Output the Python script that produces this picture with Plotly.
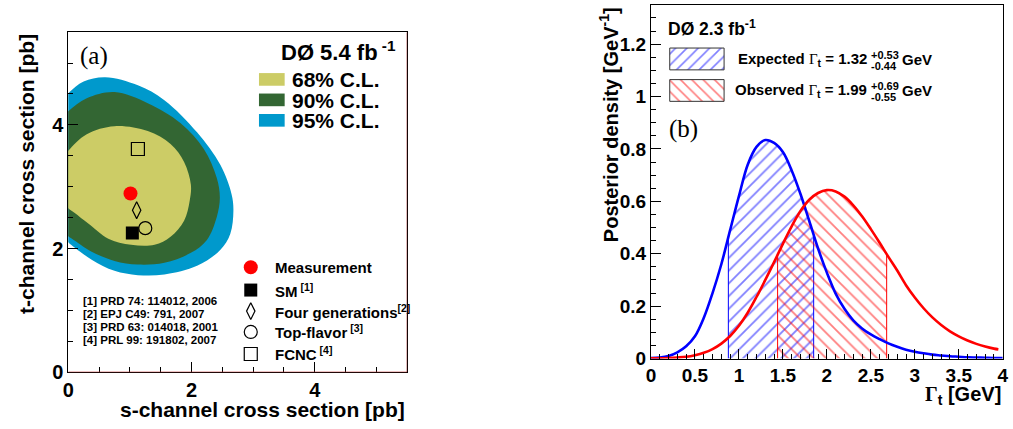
import numpy as np
import plotly.graph_objects as go

W, H = 1013, 429
SANS = "Liberation Sans, Arial, sans-serif"
SERIF = "Liberation Serif, Times New Roman, serif"

# ---------------- data: panel (a) ----------------
cl_labels = ["68% C.L.", "90% C.L.", "95% C.L."]
cl_colors = ["#cccc66", "#336633", "#0099cc"]

cl95_s = [0.0, 0.25, 0.6, 1.13, 1.56, 2.09, 2.47, 2.65, 2.68, 2.63, 2.47, 2.09, 1.56, 1.13, 0.75, 0.38, 0.06, 0.0, -0.2, -0.3, -0.2, 0.0]
cl95_t = [4.51, 4.70, 4.77, 4.64, 4.40, 3.88, 3.35, 2.88, 2.61, 2.24, 1.98, 1.72, 1.58, 1.57, 1.64, 1.82, 2.05, 2.10, 2.40, 3.30, 4.30, 4.51]
cl90_s = [0.0, 0.3, 0.75, 1.29, 1.82, 2.20, 2.41, 2.46, 2.41, 2.25, 1.99, 1.56, 1.13, 0.75, 0.38, 0.06, 0.0, -0.2, -0.3, -0.2, 0.0]
cl90_t = [4.22, 4.43, 4.53, 4.35, 4.03, 3.61, 3.14, 2.82, 2.51, 2.14, 1.93, 1.77, 1.74, 1.80, 1.95, 2.16, 2.20, 2.50, 3.20, 4.00, 4.22]
cl68_s = [0.0, 0.3, 0.75, 1.29, 1.66, 1.88, 1.99, 1.97, 1.88, 1.66, 1.40, 1.02, 0.65, 0.33, 0.10, 0.0, -0.1, -0.15, -0.1, 0.0]
cl68_t = [3.58, 3.85, 3.98, 3.90, 3.69, 3.40, 3.03, 2.77, 2.45, 2.19, 2.06, 2.06, 2.16, 2.40, 2.58, 2.65, 2.80, 3.10, 3.42, 3.58]

point_names = ["Measurement", "SM", "Four generations", "Top-flavor", "FCNC"]
point_refs = ["", " [1]", "[2]", " [3]", " [4]"]
point_s = [1.01, 1.04, 1.11, 1.25, 1.13]
point_t = [2.89, 2.25, 2.62, 2.33, 3.61]
point_symbols = ["circle", "square", "diamond-tall-open", "circle-open", "square-open"]
point_colors = ["#ff0000", "#000000", "#000000", "#000000", "#000000"]
point_sizes = [14, 13, 12, 13, 13]

ref_lines = ["[1] PRD 74: 114012, 2006", "[2] EPJ C49: 791, 2007",
             "[3] PRD 63: 014018, 2001", "[4] PRL 99: 191802, 2007"]

# ---------------- data: panel (b) ----------------
gamma_exp = [0.0, 0.1, 0.2, 0.3, 0.4, 0.5, 0.6, 0.7, 0.8, 0.9, 1.0, 1.1, 1.2, 1.3, 1.4, 1.5, 1.6, 1.7, 1.8, 1.9, 2.0,
             2.1, 2.2, 2.3, 2.4, 2.5, 2.6, 2.7, 2.8, 2.9, 3.0, 3.1, 3.2, 3.3, 3.4, 3.5, 3.6, 3.7, 3.8, 3.9, 4.0]
pdf_exp = [0.002, 0.004, 0.010, 0.024, 0.047, 0.085, 0.155, 0.250, 0.360, 0.490, 0.620, 0.740, 0.808, 0.834, 0.823,
           0.788, 0.718, 0.628, 0.525, 0.420, 0.328, 0.248, 0.190, 0.146, 0.115, 0.092, 0.074, 0.058, 0.045, 0.034,
           0.026, 0.020, 0.015, 0.012, 0.009, 0.007, 0.005, 0.004, 0.003, 0.002, 0.002]
gamma_obs = [0.0, 0.1, 0.2, 0.3, 0.4, 0.5, 0.6, 0.7, 0.8, 0.9, 1.0, 1.1, 1.2, 1.3, 1.4, 1.5, 1.6, 1.7, 1.8, 1.9, 2.0,
             2.1, 2.2, 2.3, 2.4, 2.5, 2.6, 2.7, 2.8, 2.9, 3.0, 3.1, 3.2, 3.3, 3.4, 3.5, 3.6, 3.7, 3.8, 3.9, 3.95]
pdf_obs = [0.001, 0.001, 0.002, 0.004, 0.007, 0.013, 0.022, 0.036, 0.057, 0.086, 0.125, 0.175, 0.235, 0.300, 0.368,
           0.438, 0.505, 0.563, 0.606, 0.632, 0.643, 0.638, 0.618, 0.585, 0.543, 0.494, 0.442, 0.388, 0.336, 0.280,
           0.233, 0.192, 0.157, 0.128, 0.104, 0.085, 0.069, 0.056, 0.046, 0.038, 0.035]
exp_central, exp_up, exp_dn = 1.32, 0.53, 0.44
obs_central, obs_up, obs_dn = 1.99, 0.69, 0.55

# ---------------- layout geometry (pixels) ----------------
A = dict(l=63, r=406, t=33, b=382, xr=[0, 5.5], yr=[0, 5.5])
B = dict(l=652.7, r=1008.7, t=5, b=368, xr=[0, 4], yr=[0, 1.35])


def px(x):
    return x / W


def py(y):
    return 1 - y / H


def dx(P, x):
    return P["xr"][0] + (x - P["l"]) / (P["r"] - P["l"]) * (P["xr"][1] - P["xr"][0])


def dy(P, y):
    return P["yr"][0] + (P["b"] - y) / (P["b"] - P["t"]) * (P["yr"][1] - P["yr"][0])


fig = go.Figure()

# ---- panel (a) contours ----
for xs, ys, col in [(cl95_s, cl95_t, cl_colors[2]), (cl90_s, cl90_t, cl_colors[1]), (cl68_s, cl68_t, cl_colors[0])]:
    fig.add_trace(go.Scatter(x=xs, y=ys, mode="lines", fill="toself", fillcolor=col,
                             line=dict(width=0, color=col, shape="spline", smoothing=1.0),
                             xaxis="x", yaxis="y", hoverinfo="skip", showlegend=False))

# model points
for s, t, sym, c, sz in zip(point_s, point_t, point_symbols, point_colors, point_sizes):
    fig.add_trace(go.Scatter(x=[s], y=[t], mode="markers", xaxis="x", yaxis="y", showlegend=False,
                             marker=dict(symbol=sym, color=c, size=sz, line=dict(color="black", width=1.2 if "open" in sym else 0))))

# marker legend (panel a)
leg_rows = [274.3, 297.7, 319.3, 340.7, 363.3]
for i, (name, ref) in enumerate(zip(point_names, point_refs)):
    sym, c, sz = point_symbols[i], point_colors[i], point_sizes[i]
    fig.add_trace(go.Scatter(x=[dx(A, 247.7)], y=[dy(A, leg_rows[i])], mode="markers", xaxis="x", yaxis="y",
                             showlegend=False, cliponaxis=False,
                             marker=dict(symbol=sym, color=c, size=sz,
                                         line=dict(color="black", width=1.2 if "open" in sym else 0))))
    txt = name + (f"<sup>{ref}</sup>" if ref else "")
    fig.add_annotation(x=px(270.5), y=py(leg_rows[i]), xref="paper", yref="paper", text=txt, showarrow=False,
                       xanchor="left", yanchor="middle", font=dict(family=SANS, size=15, color="black", weight="bold"))

# C.L. legend boxes
cl_rows = [(75, 88), (96, 109), (117, 130)]
for (t0, t1), lab, col in zip(cl_rows, cl_labels, cl_colors):
    fig.add_shape(type="rect", xref="paper", yref="paper", x0=px(256), x1=px(282), y0=py(t1), y1=py(t0),
                  fillcolor=col, line=dict(width=0))
    fig.add_annotation(x=px(287), y=py((t0 + t1) / 2 + 0.5), xref="paper", yref="paper", text=lab, showarrow=False,
                       xanchor="left", yanchor="middle", font=dict(family=SANS, size=21, color="black", weight="bold"))

for i, line in enumerate(ref_lines):
    fig.add_annotation(x=px(76), y=py(309.3 + 13.35 * i), xref="paper", yref="paper", text=line, showarrow=False,
                       xanchor="left", yanchor="middle", font=dict(family=SANS, size=11.5, color="black", weight="bold"))

fig.add_annotation(x=px(397), y=py(52), xref="paper", yref="paper", text="DØ 5.4 fb<sup> -1</sup>", showarrow=False,
                   xanchor="right", yanchor="middle", font=dict(family=SANS, size=22, color="black", weight="bold"))
fig.add_annotation(x=px(89.5), y=py(57.5), xref="paper", yref="paper", text="(a)", showarrow=False,
                   xanchor="center", yanchor="middle", font=dict(family=SERIF, size=25, color="black"))

# frame accents (panel a): reddish bottom and right edges as in the original
fig.add_shape(type="line", xref="x", yref="y", x0=A["xr"][0], x1=A["xr"][1], y0=0, y1=0,
              line=dict(color="#c03030", width=1))
fig.add_shape(type="line", xref="x", yref="y", x0=A["xr"][1], x1=A["xr"][1], y0=A["yr"][0], y1=A["yr"][1],
              line=dict(color="#a02828", width=1))

# ---- panel (b) ----
def band(xs, ys, lo, hi):
    bx = [lo] + [x for x in xs if lo < x < hi] + [hi]
    by = [float(np.interp(lo, xs, ys))] + [y for x, y in zip(xs, ys) if lo < x < hi] + [float(np.interp(hi, xs, ys))]
    return bx, by


for xs, ys, c, shp, lo, hi in [
    (gamma_exp, pdf_exp, "#0000ff", "/", exp_central - exp_dn, exp_central + exp_up),
    (gamma_obs, pdf_obs, "#ff0000", "\\", obs_central - obs_dn, obs_central + obs_up),
]:
    bx, by = band(xs, ys, lo, hi)
    fig.add_trace(go.Scatter(x=bx, y=by, mode="lines", fill="tozeroy", xaxis="x2", yaxis="y2", showlegend=False,
                             fillcolor="rgba(0,0,0,0)",
                             fillpattern=dict(shape=shp, fgcolor=c, bgcolor="rgba(0,0,0,0)", size=9, solidity=0.2),
                             line=dict(width=0, shape="spline"), hoverinfo="skip"))
    for xe, ye in [(bx[0], by[0]), (bx[-1], by[-1])]:
        fig.add_trace(go.Scatter(x=[xe, xe], y=[0, ye], mode="lines", xaxis="x2", yaxis="y2", showlegend=False,
                                 line=dict(color=c, width=1), hoverinfo="skip"))

fig.add_trace(go.Scatter(x=gamma_exp, y=pdf_exp, mode="lines", xaxis="x2", yaxis="y2", showlegend=False,
                         line=dict(color="#0000ff", width=2.6, shape="spline")))
fig.add_trace(go.Scatter(x=gamma_obs, y=pdf_obs, mode="lines", xaxis="x2", yaxis="y2", showlegend=False,
                         line=dict(color="#ff0000", width=2.6, shape="spline")))

# legend (panel b)
leg_b = [(49.3, 71.7, "#0000ff", "/", "Expected", exp_central, exp_up, exp_dn, 61.5),
         (81.7, 104.0, "#ff0000", "\\", "Observed", obs_central, obs_up, obs_dn, 93.3)]
for t0, t1, c, shp, name, cen, up, dn, ymid in leg_b:
    x0, x1 = dx(B, 671.7), dx(B, 726.7)
    y0, y1 = dy(B, t1), dy(B, t0)
    fig.add_trace(go.Scatter(x=[x0, x1, x1, x0, x0], y=[y0, y0, y1, y1, y0], mode="lines", fill="toself",
                             xaxis="x2", yaxis="y2", showlegend=False, fillcolor="rgba(0,0,0,0)",
                             fillpattern=dict(shape=shp, fgcolor=c, bgcolor="rgba(0,0,0,0)", size=8, solidity=0.2),
                             line=dict(color="#333333", width=1), hoverinfo="skip"))
    base = f"{name} <span style='font-family:Liberation Serif;font-weight:normal'>Γ</span><sub>t</sub> = {cen:.2f}"
    fig.add_annotation(x=px(873), y=py(ymid), xref="paper", yref="paper", text=base, showarrow=False,
                       xanchor="right", yanchor="middle", font=dict(family=SANS, size=15, color="black", weight="bold"))
    fig.add_annotation(x=px(873.5), y=py(ymid - 5), xref="paper", yref="paper", text=f"+{up:.2f}", showarrow=False,
                       xanchor="left", yanchor="middle", font=dict(family=SANS, size=11, color="black", weight="bold"))
    fig.add_annotation(x=px(873.5), y=py(ymid + 6.5), xref="paper", yref="paper", text=f"-{dn:.2f}", showarrow=False,
                       xanchor="left", yanchor="middle", font=dict(family=SANS, size=11, color="black", weight="bold"))
    fig.add_annotation(x=px(905), y=py(ymid), xref="paper", yref="paper", text="GeV", showarrow=False,
                       xanchor="left", yanchor="middle", font=dict(family=SANS, size=15, color="black", weight="bold"))

fig.add_annotation(x=px(668), y=py(29), xref="paper", yref="paper", text="DØ 2.3 fb<sup>-1</sup>", showarrow=False,
                   xanchor="left", yanchor="middle", font=dict(family=SANS, size=17.5, color="black", weight="bold"))
fig.add_annotation(x=px(686), y=py(132), xref="paper", yref="paper", text="(b)", showarrow=False,
                   xanchor="center", yanchor="middle", font=dict(family=SERIF, size=25, color="black"))

# axis titles
fig.add_annotation(x=px(20), y=py(33), xref="paper", yref="paper", text="t-channel cross section [pb]",
                   showarrow=False, textangle=-90, xanchor="center", yanchor="top",
                   font=dict(family=SANS, size=21, color="black", weight="bold"))
fig.add_annotation(x=px(406), y=py(420), xref="paper", yref="paper", text="s-channel cross section [pb]",
                   showarrow=False, xanchor="right", yanchor="middle",
                   font=dict(family=SANS, size=21, color="black", weight="bold"))
fig.add_annotation(x=px(610), y=py(5), xref="paper", yref="paper", text="Posterior density [GeV<sup>-1</sup>]",
                   showarrow=False, textangle=-90, xanchor="center", yanchor="top",
                   font=dict(family=SANS, size=20, color="black", weight="bold"))
fig.add_annotation(x=px(1008.7), y=py(406), xref="paper", yref="paper",
                   text="<span style='font-family:Liberation Serif'>Γ</span><sub>t</sub> [GeV]",
                   showarrow=False, xanchor="right", yanchor="middle",
                   font=dict(family=SANS, size=20, color="black", weight="bold"))

tickfont_a = dict(family=SANS, size=20, color="black", weight="bold")
tickfont_b = dict(family=SANS, size=19, color="black", weight="bold")
common = dict(showgrid=False, zeroline=False, showline=True, linecolor="black", linewidth=1, mirror=True,
              ticks="inside", ticklen=10, tickwidth=1, tickcolor="black", fixedrange=True,
              ticklabeloverflow="allow")

fig.update_layout(
    width=W, height=H, margin=dict(l=0, r=0, t=0, b=0),
    paper_bgcolor="white", plot_bgcolor="white", showlegend=False,
    font=dict(family=SANS, color="black"),
    xaxis=dict(domain=[px(A["l"]), px(A["r"])], range=A["xr"], anchor="y", tick0=0, dtick=2,
               tickfont=tickfont_a, minor=dict(dtick=0.5, ticklen=5, ticks="inside", tickcolor="black"), **common),
    yaxis=dict(domain=[py(A["b"]), py(A["t"])], range=A["yr"], anchor="x", tick0=0, dtick=2,
               tickfont=tickfont_a, minor=dict(dtick=0.5, ticklen=5, ticks="inside", tickcolor="black"), **common),
    xaxis2=dict(domain=[px(B["l"]), px(B["r"])], range=B["xr"], anchor="y2", tick0=0, dtick=0.5,
                tickfont=tickfont_b, minor=dict(dtick=0.1, ticklen=5, ticks="inside", tickcolor="black"), **common),
    yaxis2=dict(domain=[py(B["b"]), py(B["t"])], range=B["yr"], anchor="x2", tick0=0, dtick=0.2,
                tickfont=tickfont_b, minor=dict(dtick=0.05, ticklen=5, ticks="inside", tickcolor="black"), **common),
)

fig.write_html("out.html", config={"displayModeBar": False},
               post_script="document.body.style.margin='0';document.body.style.padding='0';document.body.style.overflow='hidden';")
